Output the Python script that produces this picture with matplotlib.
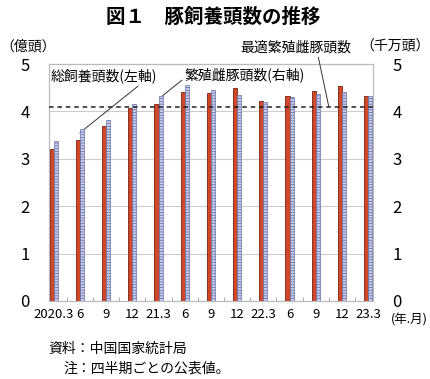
import matplotlib
matplotlib.use('Agg')
import matplotlib.pyplot as plt
import numpy as np

plt.rcParams['font.family'] = ['Noto Sans CJK JP', 'DejaVu Sans']
plt.rcParams['hatch.linewidth'] = 0.6

# 四半期 (年.月)
labels = ['2020.3', '6', '9', '12', '21.3', '6', '9', '12', '22.3', '6', '9', '12', '23.3']
# 総飼養頭数 (億頭, 左軸)
hogs = [3.21, 3.40, 3.70, 4.07, 4.16, 4.40, 4.39, 4.49, 4.23, 4.32, 4.44, 4.53, 4.33]
# 繁殖雌豚頭数 (千万頭, 右軸)
sows = [3.38, 3.63, 3.82, 4.16, 4.32, 4.56, 4.46, 4.35, 4.19, 4.30, 4.37, 4.40, 4.33]
optimal = 4.1  # 最適繁殖雌豚頭数 (千万頭)

x = np.arange(len(labels))
w = 0.155

fig = plt.figure(figsize=(4.30, 3.79), dpi=100)
ax = fig.add_axes([0.114, 0.206, 0.753, 0.625])
ax2 = ax.twinx()

ax.bar(x - w / 2, hogs, w, color='#d0482a', edgecolor='#7a2010', linewidth=0.6, zorder=3)
ax2.bar(x + w / 2, sows, w, color='#c8cdea', edgecolor='#6a74aa', linewidth=0.5,
        hatch='------', zorder=3)
ax2.axhline(optimal, color='#222222', ls=(0, (3, 2.5)), lw=1.1, zorder=4)

for a in (ax, ax2):
    a.set_ylim(0, 5)
    a.set_yticks([0, 1, 2, 3, 4, 5])
    a.tick_params(axis='y', length=0, labelsize=12, pad=14)
    for s in a.spines.values():
        s.set_color('#bbbbbb')
        s.set_linewidth(0.8)
ax.set_xlim(-0.18, 12.18)
ax.grid(axis='y', color='#cccccc', lw=0.8, zorder=0)
ax.set_axisbelow(True)
ax.set_xticks(x)
ax.set_xticklabels(labels)
ax.tick_params(axis='x', length=0, labelsize=9.5, pad=5)
ax.set_xticks(np.arange(len(labels) - 1) + 0.5, minor=True)
ax.tick_params(axis='x', which='minor', direction='in', length=3, color='#999999')

fig.text(0.495, 0.955, '図１　豚飼養頭数の推移', ha='center', va='center', fontsize=14, fontweight='bold')
fig.text(0.0, 0.877, '（億頭）', ha='left', va='center', fontsize=10)
fig.text(1.0, 0.877, '（千万頭）', ha='right', va='center', fontsize=10)
fig.text(0.995, 0.155, '(年.月)', ha='right', va='center', fontsize=9)
fig.text(0.113, 0.08, '資料：中国国家統計局', ha='left', va='center', fontsize=10)
fig.text(0.148, 0.028, '注：四半期ごとの公表値。', ha='left', va='center', fontsize=10)

ax.annotate('総飼養頭数(左軸)', xy=(1.0, 3.55), xytext=(-0.1, 4.75),
            fontsize=10, ha='left', va='center',
            arrowprops=dict(arrowstyle='-', color='#333333', lw=0.7, shrinkA=0, shrinkB=0,
                            relpos=(0.85, 0.0)))
ax2.annotate('繁殖雌豚頭数(右軸)', xy=(4.15, 4.33), xytext=(5.0, 4.77),
             fontsize=10, ha='left', va='center',
             arrowprops=dict(arrowstyle='-', color='#333333', lw=0.7, shrinkA=0, shrinkB=0,
                             relpos=(0.0, 0.3)))
ax2.annotate('最適繁殖雌豚頭数', xy=(10.5, optimal), xytext=(11.35, 5.35),
             fontsize=10, ha='right', va='center', annotation_clip=False,
             arrowprops=dict(arrowstyle='-', color='#333333', lw=0.7, shrinkA=0, shrinkB=0,
                             relpos=(0.7, 0.0)))

fig.savefig('out.png', dpi=100)
